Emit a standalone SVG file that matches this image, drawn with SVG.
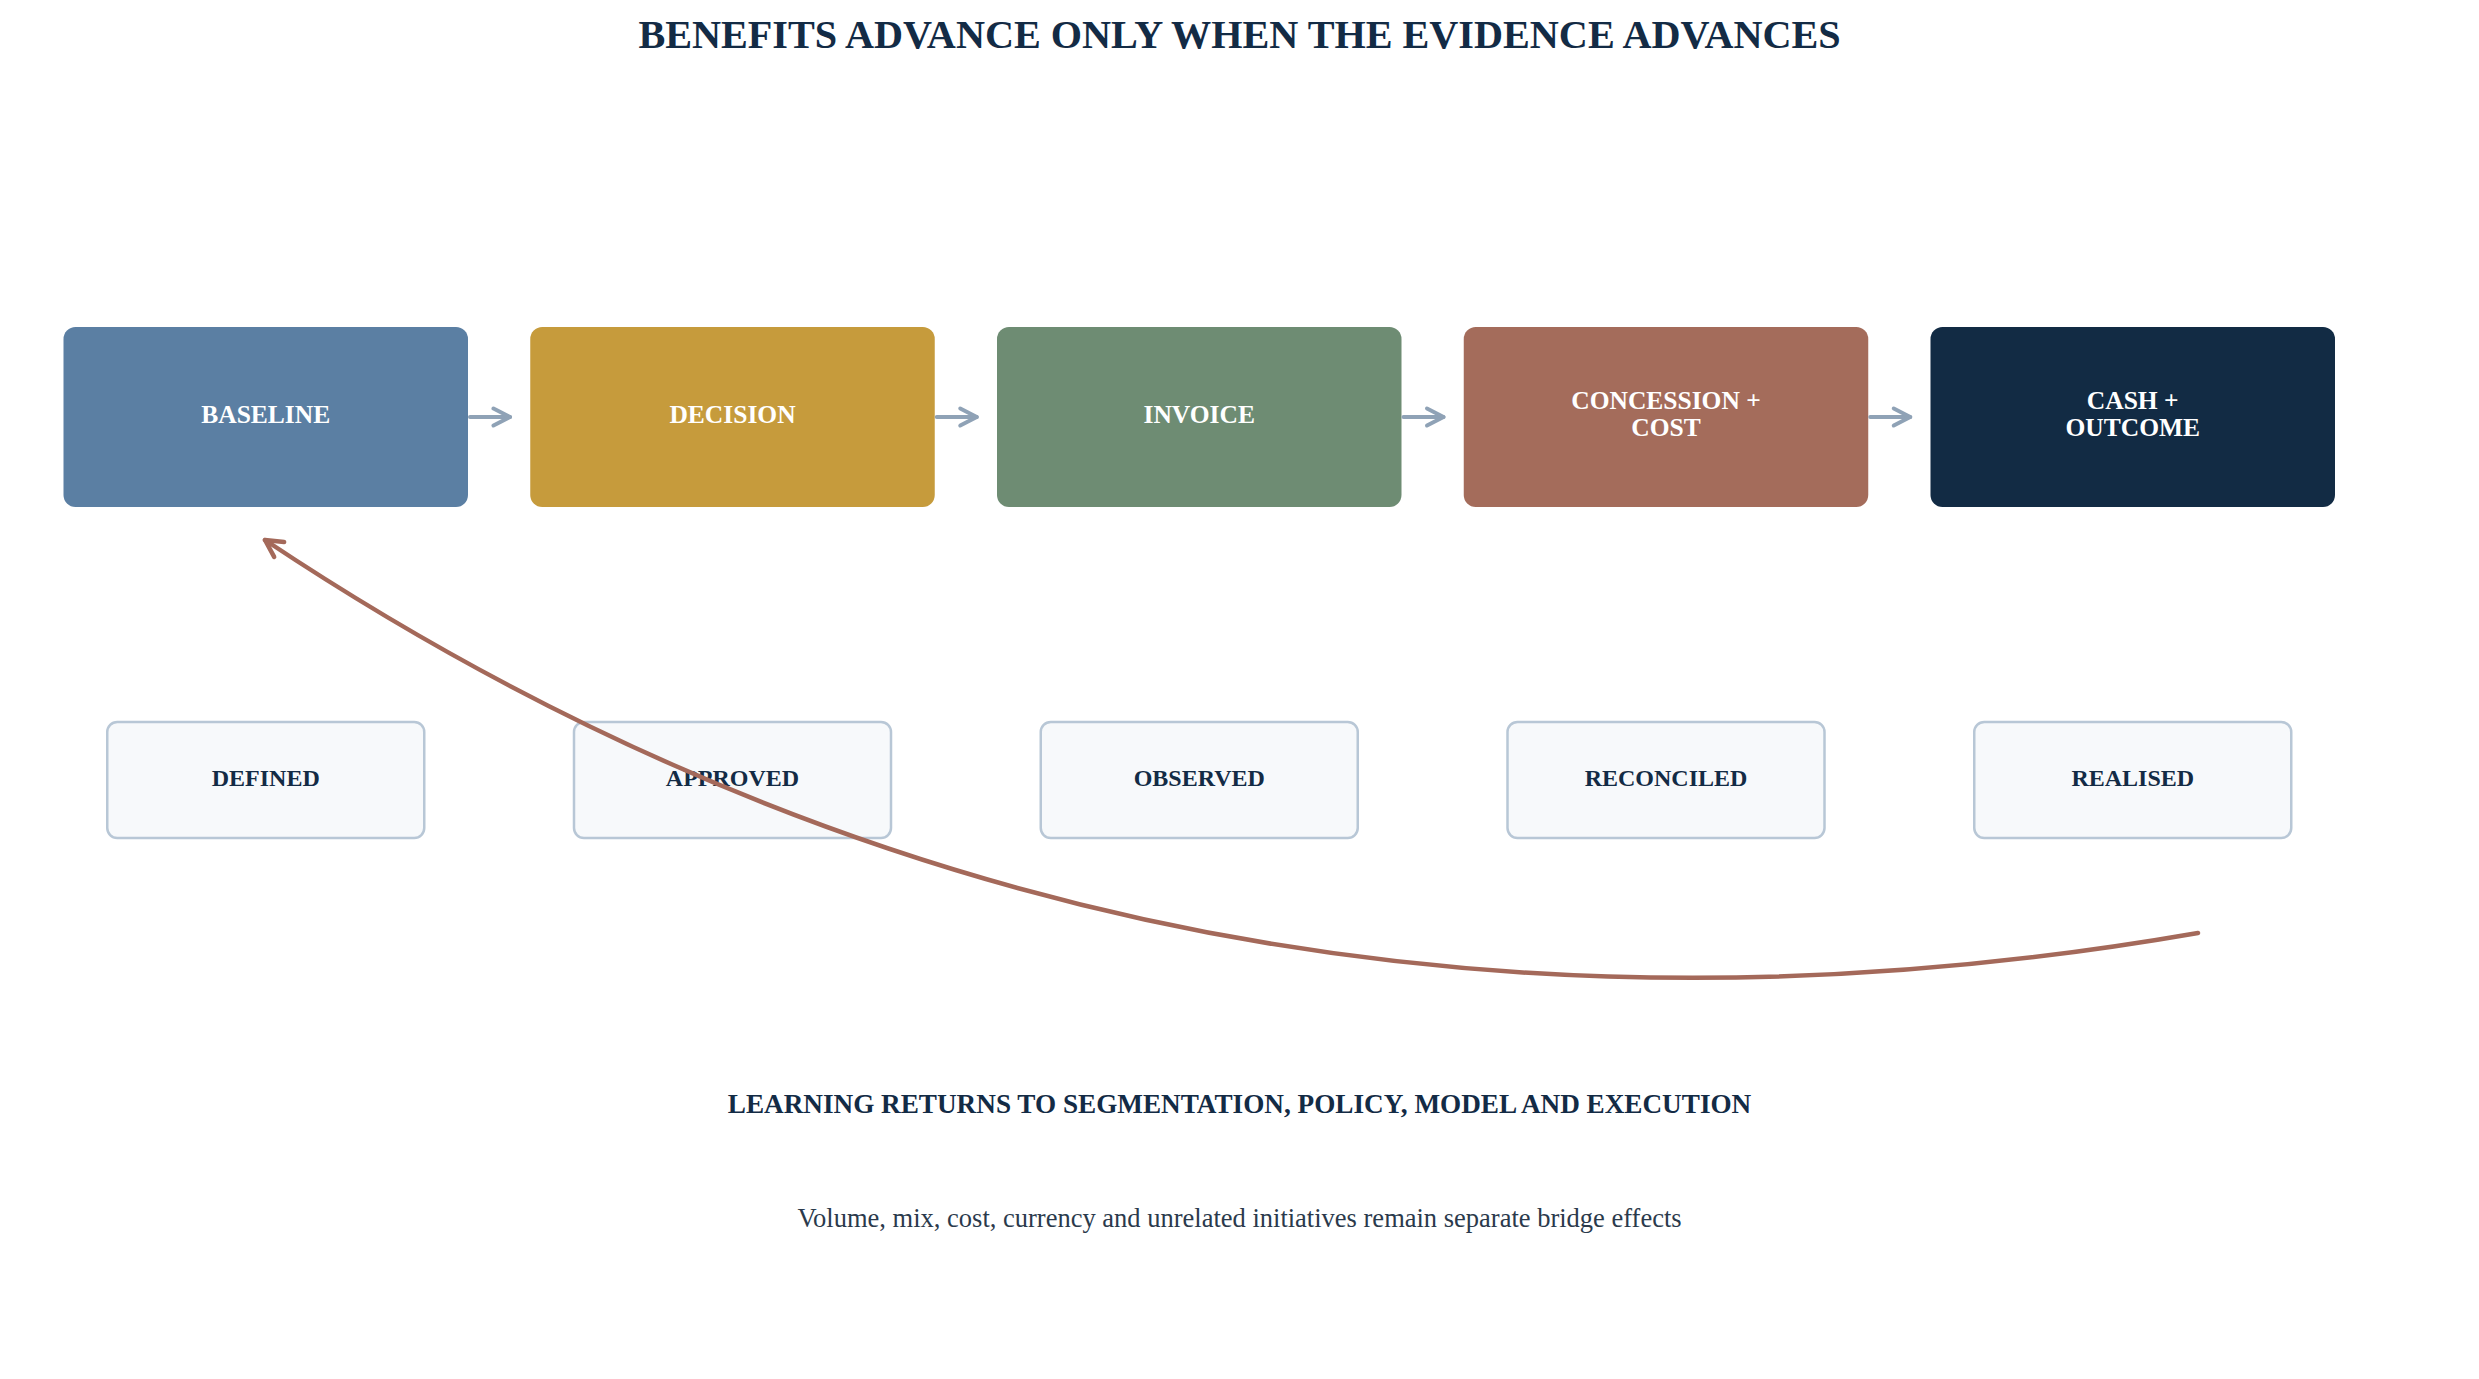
<svg xmlns="http://www.w3.org/2000/svg" width="2479" height="1379" viewBox="0 0 2479 1379">
  <style>
    text { font-family: "Liberation Serif", "Times New Roman", serif; text-anchor: middle; }
    .title { font-size: 40.2px; font-weight: bold; fill: #132b45; }
    .stage rect { rx: 12px; ry: 12px; }
    .stage text { font-size: 25.5px; font-weight: bold; fill: #ffffff; }
    .evidence rect { fill: #f7f9fb; stroke: #b8c7d6; stroke-width: 2.5; }
    .evidence text { font-size: 24px; font-weight: bold; fill: #132b45; }
    .flow { fill: none; stroke: #8fa2b6; stroke-width: 4; stroke-linecap: round; }
    .loop { fill: none; stroke: #a4695a; stroke-width: 4.5; stroke-linecap: round; }
    .note { font-size: 27.2px; font-weight: bold; fill: #132b45; }
    .sub { font-size: 26.5px; fill: #2b3a4c; }
  </style>
  <defs>
    <marker id="arrGray" markerUnits="userSpaceOnUse" viewBox="0 0 24 24" markerWidth="24" markerHeight="24" refX="20" refY="12" orient="auto">
      <path d="M3.5,3.5 L20,12 L3.5,20.5" fill="none" stroke="#8fa2b6" stroke-width="4" stroke-linecap="round" stroke-linejoin="round"/>
    </marker>
    <marker id="arrRust" markerUnits="userSpaceOnUse" viewBox="0 0 24 24" markerWidth="24" markerHeight="24" refX="20" refY="12" orient="auto">
      <path d="M3,3 L20,12 L3,21" fill="none" stroke="#a4695a" stroke-width="4.5" stroke-linecap="round" stroke-linejoin="round"/>
    </marker>
  </defs>

  <rect x="0" y="0" width="2479" height="1379" fill="#ffffff"/>

  <text class="title" x="1239.5" y="48">BENEFITS ADVANCE ONLY WHEN THE EVIDENCE ADVANCES</text>

  <g id="baseline" class="stage">
    <rect x="63.5" y="327" width="404.5" height="180" fill="#5b7fa3"/>
    <text x="265.75" y="423">BASELINE</text>
  </g>
  <g id="decision" class="stage">
    <rect x="530.25" y="327" width="404.5" height="180" fill="#c69b3c"/>
    <text x="732.5" y="423">DECISION</text>
  </g>
  <g id="invoice" class="stage">
    <rect x="997" y="327" width="404.5" height="180" fill="#6e8c73"/>
    <text x="1199.25" y="423">INVOICE</text>
  </g>
  <g id="concession" class="stage">
    <rect x="1463.75" y="327" width="404.5" height="180" fill="#a46c5b"/>
    <text x="1666" y="409">CONCESSION +</text>
    <text x="1666" y="436">COST</text>
  </g>
  <g id="cash" class="stage">
    <rect x="1930.5" y="327" width="404.5" height="180" fill="#122b44"/>
    <text x="2132.75" y="409">CASH +</text>
    <text x="2132.75" y="436">OUTCOME</text>
  </g>

  <g id="defined" class="evidence">
    <rect x="107.25" y="722" width="317" height="116" rx="10" ry="10"/>
    <text x="265.75" y="786">DEFINED</text>
  </g>
  <g id="approved" class="evidence">
    <rect x="574" y="722" width="317" height="116" rx="10" ry="10"/>
    <text x="732.5" y="786">APPROVED</text>
  </g>
  <g id="observed" class="evidence">
    <rect x="1040.75" y="722" width="317" height="116" rx="10" ry="10"/>
    <text x="1199.25" y="786">OBSERVED</text>
  </g>
  <g id="reconciled" class="evidence">
    <rect x="1507.5" y="722" width="317" height="116" rx="10" ry="10"/>
    <text x="1666" y="786">RECONCILED</text>
  </g>
  <g id="realised" class="evidence">
    <rect x="1974.25" y="722" width="317" height="116" rx="10" ry="10"/>
    <text x="2132.75" y="786">REALISED</text>
  </g>

  <g id="connectors">
    <path class="flow" d="M470,417 L510,417" marker-end="url(#arrGray)"/>
    <path class="flow" d="M936.75,417 L976.75,417" marker-end="url(#arrGray)"/>
    <path class="flow" d="M1403.5,417 L1443.5,417" marker-end="url(#arrGray)"/>
    <path class="flow" d="M1870.25,417 L1910.25,417" marker-end="url(#arrGray)"/>
    <path class="loop" d="M2198,933 Q1132,1118 265,540" marker-end="url(#arrRust)"/>
  </g>

  <text class="note" x="1239.5" y="1113">LEARNING RETURNS TO SEGMENTATION, POLICY, MODEL AND EXECUTION</text>
  <text class="sub" x="1239.5" y="1227">Volume, mix, cost, currency and unrelated initiatives remain separate bridge effects</text>
</svg>
